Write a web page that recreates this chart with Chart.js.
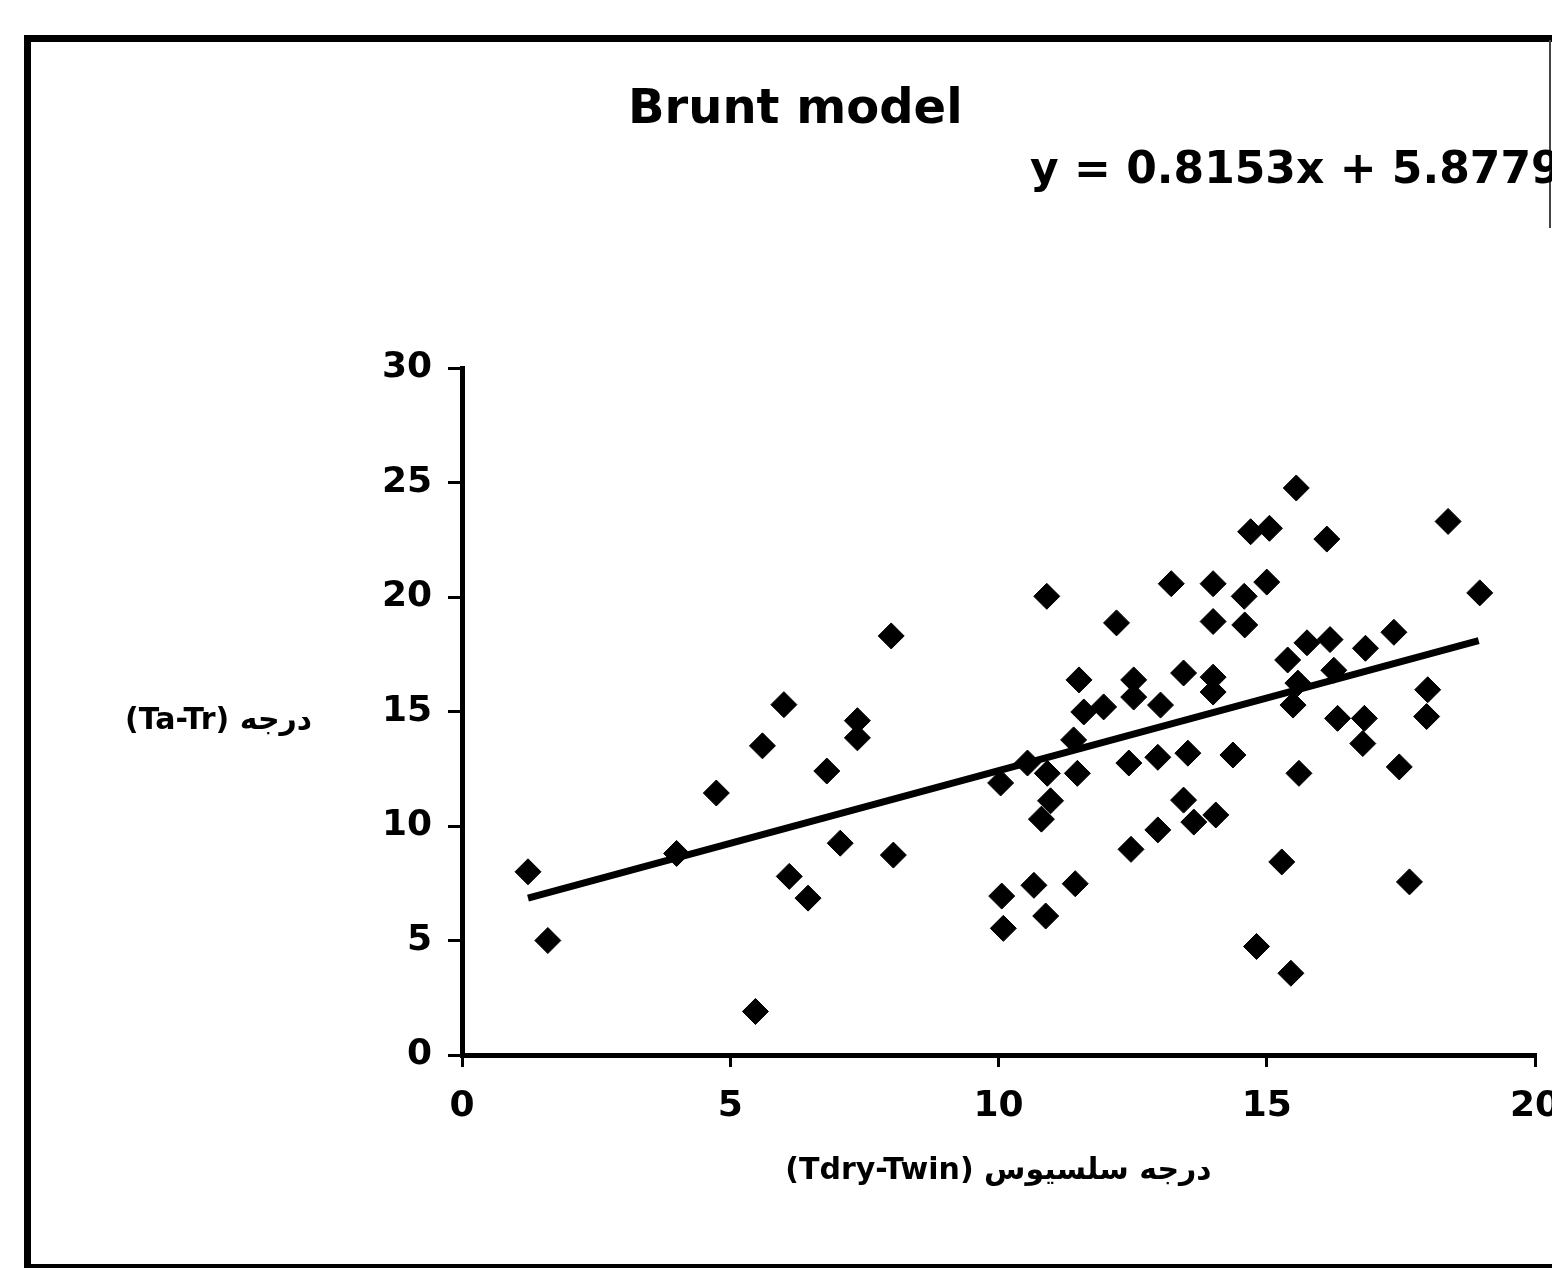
<!DOCTYPE html>
<html>
<head>
<meta charset="utf-8">
<title>Brunt model</title>
<script src="https://cdn.jsdelivr.net/npm/chart.js@4.4.1/dist/chart.umd.min.js"></script>
<style>
  html, body { margin: 0; padding: 0; background: #fff; overflow: hidden; }
  #wrap { position: relative; width: 1552px; height: 1272px; overflow: hidden; }
  #chart { position: absolute; left: 0; top: 0; }
  .frame { position: absolute; left: 24px; top: 35px; width: 1600px; height: 1222px;
    border-left: 7px solid #000; border-top: 7px solid #000; border-bottom: 4px solid #000; }
  .txt { position: absolute; font-family: "DejaVu Sans", sans-serif; font-weight: bold; color: #000; white-space: nowrap; }
  #title { left: 628px; top: 82px; font-size: 48px; line-height: 48px; }
  #eq { left: 1030px; top: 146px; font-size: 44px; line-height: 44px; }
  #ylab { left: 125px; top: 704px; font-size: 30px; line-height: 30px; }
  .edge { position: absolute; left: 1549px; top: 40px; width: 2px; height: 188px; background: #444; }
</style>
</head>
<body>
<div id="wrap">
  <canvas id="chart" width="1600" height="1272"></canvas>
  <div class="frame"></div>
  <div class="edge"></div>
  <div class="txt" id="title">Brunt model</div>
  <div class="txt" id="eq">y = 0.8153x + 5.8779</div>
  <div class="txt" id="ylab">(Ta-Tr) درجه</div>
</div>
<script>
// measured points (Tdry-Twin vs Ta-Tr)
const xVals = [
  1.23, 1.6, 4.0, 4.74, 5.6, 6.0, 5.47, 6.1, 6.45, 6.8, 7.05, 7.37, 7.37, 8.0, 8.04,
  15.55, 14.7, 15.05, 16.12, 18.38, 10.9, 13.22, 14.0, 15.0, 14.58, 18.97,
  12.2, 14.0, 14.59, 15.75, 16.18, 16.84, 17.37, 18.0, 17.98,
  11.5, 12.52, 12.52, 11.59, 11.96, 13.02, 13.45, 14.0, 14.0,
  15.39, 15.58, 15.49, 16.25, 16.32, 16.82, 16.79, 17.47, 15.6,
  10.04, 10.54, 10.91, 11.4, 11.47, 10.97, 10.8,
  12.43, 12.97, 13.53, 14.37, 13.45, 13.64, 14.05, 12.97, 12.47,
  15.28, 17.66, 10.06, 10.66, 11.43, 10.09, 10.88, 14.81, 15.45
];
const yVals = [
  8.0, 5.0, 8.8, 11.44, 13.5, 15.3, 1.9, 7.8, 6.85, 12.4, 9.25, 14.6, 13.85, 18.3, 8.73,
  24.76, 22.85, 23.0, 22.53, 23.3, 20.03, 20.58, 20.58, 20.65, 20.03, 20.18,
  18.87, 18.93, 18.78, 18.0, 18.14, 17.76, 18.46, 15.95, 14.78,
  16.38, 16.38, 15.63, 14.98, 15.2, 15.28, 16.68, 16.5, 15.85,
  17.25, 16.24, 15.28, 16.8, 14.7, 14.7, 13.6, 12.58, 12.3,
  11.88, 12.75, 12.3, 13.76, 12.3, 11.1, 10.3,
  12.75, 13.0, 13.18, 13.1, 11.13, 10.17, 10.48, 9.83, 8.98,
  8.43, 7.56, 6.94, 7.41, 7.48, 5.53, 6.07, 4.74, 3.57
];

// trend line ends as drawn in the picture
const trendX = [1.23, 18.95];
const trendY = [6.85, 18.1];

const xTicks = [0, 5, 10, 15, 20];
const yTicks = [0, 5, 10, 15, 20, 25, 30];

const points = xVals.map((x, i) => ({ x: x, y: yVals[i] }));
const trend = trendX.map((x, i) => ({ x: x, y: trendY[i] }));

const tickFont = { family: 'DejaVu Sans', weight: 'bold', size: 36 };

new Chart(document.getElementById('chart'), {
  type: 'scatter',
  data: {
    datasets: [
      {
        label: 'data',
        data: points,
        pointStyle: 'rectRot',
        pointRadius: 13,
        backgroundColor: '#000',
        borderColor: '#000',
        borderWidth: 1
      },
      {
        label: 'trend',
        data: trend,
        showLine: true,
        borderColor: '#000',
        borderWidth: 7,
        pointRadius: 0
      }
    ]
  },
  options: {
    responsive: false,
    animation: false,
    layout: { padding: { left: 0, top: 368, right: 65, bottom: 57 } },
    plugins: {
      legend: { display: false },
      tooltip: { enabled: false }
    },
    scales: {
      x: {
        type: 'linear',
        min: xTicks[0],
        max: xTicks[xTicks.length - 1],
        afterFit: function (scale) { scale.height = 160; },
        afterBuildTicks: function (scale) { scale.ticks = xTicks.map(v => ({ value: v })); },
        ticks: { color: '#000', font: tickFont, padding: 18, maxRotation: 0 },
        grid: { display: true, drawOnChartArea: false, drawTicks: true, tickLength: 12, color: '#000', lineWidth: 3 },
        border: { display: true, color: '#000', width: 5 },
        title: {
          display: true,
          text: '(Tdry-Twin) درجه سلسیوس',
          color: '#000',
          font: { family: 'DejaVu Sans', weight: 'bold', size: 30 },
          padding: { top: 18, bottom: 26 }
        }
      },
      y: {
        type: 'linear',
        min: yTicks[0],
        max: yTicks[yTicks.length - 1],
        afterFit: function (scale) { scale.width = 462; },
        afterBuildTicks: function (scale) { scale.ticks = yTicks.map(v => ({ value: v })); },
        ticks: { color: '#000', font: tickFont, padding: 16 },
        grid: { display: true, drawOnChartArea: false, drawTicks: true, tickLength: 14, color: '#000', lineWidth: 3 },
        border: { display: true, color: '#000', width: 5 }
      }
    }
  }
});
</script>
</body>
</html>
